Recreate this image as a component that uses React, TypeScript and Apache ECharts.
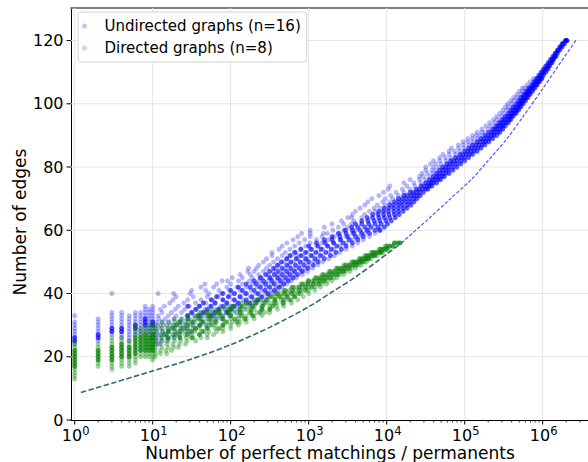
import React, { useEffect, useRef } from 'react';
import * as echarts from 'echarts';

const FONT = 'DejaVu Sans';
const UNDIRECTED = 'Undirected graphs (n=16)';
const DIRECTED = 'Directed graphs (n=8)';

// x values are log10(number of perfect matchings / permanent)
const X_MIN = -0.047;
const X_MAX = 6.581;
const Y_MAX = 130.3;
const xTickExponents = [0, 1, 2, 3, 4, 5, 6];
const xTickLabels = ['10', '10', '10', '10', '10', '10', '10'];
const minorMultipliers = [2, 3, 4, 5, 6, 7, 8, 9];
const yTickValues = [0, 20, 40, 60, 80, 100, 120];

// low-count columns: [log10 x, edge counts]
const undirectedColumns: [number, number[]][] = [
  [0, [24, 25, 26, 27, 28, 29, 30, 31, 33]],
  [0.301, [25, 26, 27, 28, 29, 30, 31, 32]],
  [0.477, [27, 28, 29, 30, 31, 32, 33, 34, 40]],
  [0.602, [26, 27, 28, 29, 30, 31, 32, 33, 34]],
  [0.699, [25, 26, 27, 28, 29, 30, 31, 32, 33]],
  [0.778, [27, 28, 29, 30, 31, 32, 33, 34]],
  [0.845, [27, 28, 29, 30, 31, 32, 33, 34]],
  [0.903, [28, 29, 30, 31, 32, 33, 34, 35, 36]],
  [0.954, [27, 28, 29, 30, 31, 32, 33, 34, 35]],
  [1.0, [26, 27, 28, 29, 30, 31, 32, 33, 34, 35, 36]],
];
const undirectedColumnsDense: [number, number[]][] = [
  [0, [25, 26]],
  [0.301, [26, 27]],
  [0.477, [28, 29]],
  [0.602, [28, 29]],
  [0.778, [29, 30]],
  [0.903, [30, 31, 32]],
  [1.0, [30, 31]],
];

// rows: [edges, log10 x values]
const undirectedRows: [number, number[]][] = [
  [24, [1.04, 1.08]],
  [25, [1.04, 1.11, 1.18]],
  [26, [1.05, 1.12, 1.2, 1.28]],
  [27, [1.04, 1.1, 1.17, 1.26, 1.35]],
  [28, [1.05, 1.13, 1.2, 1.3, 1.42, 1.48]],
  [29, [1.04, 1.1, 1.19, 1.27, 1.36, 1.45, 1.55]],
  [30, [1.06, 1.14, 1.23, 1.31, 1.4, 1.5, 1.6, 1.68]],
  [31, [1.05, 1.12, 1.21, 1.33, 1.42, 1.52, 1.63, 1.75]],
  [32, [1.08, 1.16, 1.27, 1.38, 1.47, 1.58, 1.7, 1.82, 1.88]],
  [33, [1.07, 1.2, 1.3, 1.44, 1.55, 1.66, 1.78, 1.9, 1.98]],
  [34, [1.12, 1.24, 1.37, 1.5, 1.62, 1.74, 1.86, 1.97, 2.08]],
  [35, [1.1, 1.29, 1.41, 1.56, 1.67, 1.8, 1.93, 2.04, 2.17]],
  [36, [1.15, 1.33, 1.47, 1.6, 1.73, 1.87, 2.0, 2.12, 2.26]],
  [37, [1.22, 1.4, 1.55, 1.68, 1.8, 1.95, 2.08, 2.2, 2.34]],
  [38, [1.26, 1.45, 1.62, 1.77, 1.9, 2.03, 2.16, 2.3, 2.42]],
  [39, [1.3, 1.52, 1.7, 1.84, 1.98, 2.12, 2.25, 2.38, 2.48]],
  [40, [1.07, 1.27, 1.48, 1.72, 1.88, 2.02, 2.18, 2.32, 2.45, 2.54]],
  [41, [1.5, 1.68, 1.85, 1.98, 2.12, 2.26, 2.4, 2.52, 2.6]],
  [42, [1.62, 1.78, 1.95, 2.08, 2.2, 2.34, 2.46, 2.58, 2.65]],
  [43, [1.67, 1.82, 2.0, 2.15, 2.28, 2.4, 2.52, 2.64, 2.72]],
  [44, [1.89, 1.96, 2.1, 2.24, 2.36, 2.48, 2.6, 2.7, 2.78]],
  [45, [2.02, 2.15, 2.28, 2.4, 2.52, 2.64, 2.75, 2.84]],
  [46, [2.12, 2.25, 2.36, 2.48, 2.6, 2.72, 2.82, 2.92]],
  [47, [2.22, 2.3, 2.42, 2.55, 2.67, 2.78, 2.9, 2.98]],
  [48, [2.23, 2.33, 2.46, 2.58, 2.7, 2.83, 2.95, 3.05]],
  [49, [2.36, 2.5, 2.62, 2.75, 2.88, 3.0, 3.12]],
  [50, [2.42, 2.55, 2.68, 2.8, 2.93, 3.06, 3.18]],
  [51, [2.46, 2.6, 2.72, 2.86, 2.98, 3.12, 3.26]],
  [52, [2.53, 2.66, 2.78, 2.85, 2.92, 3.05, 3.18, 3.33]],
  [53, [2.53, 2.7, 2.84, 2.98, 3.12, 3.26, 3.4]],
  [54, [2.62, 2.76, 2.9, 3.04, 3.18, 3.32, 3.48]],
  [55, [2.66, 2.82, 2.96, 3.1, 3.25, 3.4, 3.56]],
  [56, [2.72, 2.88, 3.02, 3.17, 3.32, 3.48, 3.63]],
  [57, [2.8, 2.95, 3.1, 3.25, 3.4, 3.56, 3.7]],
  [58, [2.86, 3.02, 3.17, 3.33, 3.48, 3.64, 3.78]],
  [59, [2.91, 3.02, 3.19, 3.24, 3.4, 3.56, 3.72, 3.85]],
  [60, [3.02, 3.31, 3.45, 3.6, 3.76, 3.92]],
  [61, [3.2, 3.38, 3.5]],
  [62, [3.3, 3.45, 3.55]],
  [63, [3.42, 3.58]],
  [64, [3.5, 3.55, 3.68]],
  [65, [3.56, 3.72]],
  [66, [3.6, 3.78, 3.85]],
  [67, [3.66, 3.84, 3.92]],
  [68, [3.72, 3.88, 3.98]],
  [69, [3.76, 3.95, 4.04]],
  [70, [3.81, 3.98, 4.08]],
  [71, [3.9, 4.05, 4.15]],
  [72, [3.96, 4.12, 4.22]],
  [73, [4.02, 4.2, 4.3]],
  [74, [4.04, 4.26, 4.36]],
  [75, [4.22, 4.35, 4.44]],
  [76, [4.3, 4.42, 4.5]],
  [77, [4.42, 4.47, 4.55]],
  [78, [4.45, 4.52, 4.59]],
  [79, [4.5, 4.58, 4.63]],
  [80, [4.5, 4.6, 4.67]],
  [81, [4.56, 4.63, 4.7]],
  [82, [4.6, 4.68, 4.76]],
  [83, [4.68, 4.75, 4.82]],
  [84, [4.72, 4.8, 4.88]],
  [85, [4.8, 4.87, 4.94]],
  [86, [4.83, 4.92, 4.99]],
  [87, [4.92, 4.98, 5.05]],
  [88, [4.98, 5.04, 5.1]],
  [89, [5.04, 5.1, 5.16]],
  [90, [5.1, 5.15, 5.2]],
  [91, [5.16, 5.22, 5.26]],
  [92, [5.22, 5.3]],
  [93, [5.27, 5.33]],
  [94, [5.32, 5.38]],
  [95, [5.37, 5.42]],
  [96, [5.41, 5.47]],
  [97, [5.45, 5.5]],
  [98, [5.49, 5.54]],
  [99, [5.52, 5.56]],
  [100, [5.55, 5.6]],
  [101, [5.59, 5.63]],
  [102, [5.63, 5.67]],
  [103, [5.67, 5.72]],
  [104, [5.7, 5.74]],
  [105, [5.74, 5.77]],
  [106, [5.8]],
  [107, [5.84]],
  [108, [5.88]],
];

const undirectedRowsDense: [number, number[]][] = [
  [33, [1.45, 1.6, 1.75]],
  [34, [1.5, 1.65, 1.8, 1.95]],
  [35, [1.55, 1.7, 1.85, 2.0]],
  [36, [1.45, 1.6, 1.75, 1.9, 2.05]],
  [37, [1.65, 1.8, 1.95, 2.1, 2.25]],
  [38, [1.75, 1.9, 2.05, 2.2, 2.35]],
  [39, [1.82, 1.97, 2.12, 2.27, 2.4]],
  [40, [1.9, 2.05, 2.2, 2.35, 2.48]],
  [41, [2.0, 2.15, 2.3, 2.44, 2.56]],
  [42, [2.1, 2.25, 2.38, 2.5, 2.62]],
  [43, [2.2, 2.33, 2.45, 2.56, 2.68]],
  [44, [2.3, 2.42, 2.53, 2.64, 2.74]],
  [45, [2.38, 2.5, 2.6, 2.7, 2.8]],
  [46, [2.45, 2.56, 2.66, 2.76, 2.86]],
  [47, [2.5, 2.61, 2.72, 2.82, 2.92]],
  [48, [2.55, 2.66, 2.77, 2.88, 2.99]],
  [49, [2.6, 2.72, 2.83, 2.94, 3.06]],
  [50, [2.65, 2.77, 2.89, 3.0, 3.12]],
  [51, [2.72, 2.84, 2.96, 3.08, 3.2]],
  [52, [2.76, 2.9, 3.03, 3.15, 3.28]],
  [53, [2.82, 2.96, 3.09, 3.22, 3.35]],
  [54, [2.9, 3.03, 3.16, 3.29, 3.42]],
  [55, [3.0, 3.12, 3.24, 3.36, 3.48]],
  [56, [3.1, 3.21, 3.32, 3.44, 3.56]],
  [57, [3.2, 3.3, 3.41, 3.52, 3.63]],
  [58, [3.3, 3.4, 3.5, 3.6, 3.7]],
  [59, [3.38, 3.48, 3.58, 3.68, 3.78]],
  [60, [3.47, 3.56, 3.66, 3.75, 3.85, 3.91]],
  [61, [3.55, 3.63, 3.72, 3.8, 3.89, 3.97]],
  [62, [3.6, 3.68, 3.77, 3.85, 3.93, 4.01]],
  [63, [3.68, 3.76, 3.84, 3.91, 3.99, 4.06]],
  [64, [3.75, 3.82, 3.9, 3.97, 4.04, 4.11]],
  [65, [3.82, 3.89, 3.96, 4.03, 4.1, 4.16]],
  [66, [3.9, 3.96, 4.02, 4.09, 4.15, 4.21]],
  [67, [3.97, 4.03, 4.09, 4.15, 4.21, 4.26]],
  [68, [4.04, 4.09, 4.15, 4.2, 4.26, 4.31]],
  [69, [4.1, 4.15, 4.2, 4.25, 4.3, 4.35]],
  [70, [4.15, 4.2, 4.25, 4.3, 4.35, 4.39]],
  [71, [4.22, 4.26, 4.31, 4.35, 4.39, 4.43]],
  [72, [4.3, 4.34, 4.38, 4.42, 4.47]],
  [73, [4.38, 4.42, 4.46, 4.5, 4.53]],
  [74, [4.44, 4.48, 4.52, 4.55, 4.58]],
  [75, [4.5, 4.54, 4.57, 4.6, 4.64]],
  [76, [4.55, 4.59, 4.62, 4.66, 4.69]],
  [77, [4.6, 4.64, 4.67, 4.71, 4.74]],
  [78, [4.64, 4.68, 4.72, 4.76, 4.8]],
  [79, [4.68, 4.72, 4.76, 4.8, 4.85]],
  [80, [4.72, 4.76, 4.8, 4.85, 4.9]],
  [81, [4.77, 4.81, 4.85, 4.9, 4.95]],
  [82, [4.82, 4.86, 4.9, 4.95, 5.0]],
  [83, [4.88, 4.92, 4.96, 5.0, 5.05]],
  [84, [4.94, 4.98, 5.02, 5.06, 5.1]],
  [85, [5.0, 5.04, 5.08, 5.12, 5.16]],
  [86, [5.05, 5.09, 5.13, 5.17, 5.21]],
  [87, [5.1, 5.14, 5.18, 5.22, 5.26]],
  [88, [5.16, 5.2, 5.24, 5.27, 5.31]],
  [89, [5.21, 5.25, 5.29, 5.32, 5.36]],
  [90, [5.26, 5.3, 5.34, 5.37, 5.41]],
  [91, [5.31, 5.35, 5.38, 5.42, 5.45]],
  [92, [5.36, 5.39, 5.42, 5.46, 5.49]],
  [93, [5.4, 5.43, 5.46, 5.49, 5.52]],
  [94, [5.44, 5.47, 5.5, 5.53, 5.56]],
  [95, [5.48, 5.51, 5.54, 5.57, 5.59]],
  [96, [5.52, 5.55, 5.58, 5.6, 5.62]],
  [97, [5.56, 5.59, 5.62, 5.64, 5.66]],
  [98, [5.59, 5.62, 5.65, 5.67, 5.69]],
  [99, [5.62, 5.65, 5.68, 5.7, 5.72]],
  [100, [5.66, 5.69, 5.71, 5.73, 5.75]],
  [101, [5.69, 5.72, 5.74, 5.76, 5.78]],
  [102, [5.72, 5.75, 5.77, 5.79, 5.81]],
  [103, [5.76, 5.78, 5.8, 5.82, 5.84]],
  [104, [5.79, 5.81, 5.83, 5.85, 5.87]],
  [105, [5.82, 5.84, 5.86, 5.88, 5.9]],
  [106, [5.86, 5.88, 5.9, 5.92, 5.93]],
  [107, [5.89, 5.91, 5.93, 5.95, 5.96]],
  [108, [5.92, 5.94, 5.96, 5.98, 5.99]],
  [109, [5.95, 5.97, 5.99, 6.01]],
  [110, [5.98, 6.0, 6.02, 6.04]],
  [111, [6.01, 6.03, 6.05, 6.07]],
  [112, [6.04, 6.06, 6.08, 6.09]],
  [113, [6.07, 6.09, 6.11, 6.12]],
  [114, [6.1, 6.12, 6.13, 6.14]],
  [115, [6.13, 6.15, 6.16, 6.17]],
  [116, [6.16, 6.17, 6.19]],
  [117, [6.19, 6.2, 6.22]],
  [118, [6.22, 6.23, 6.25]],
  [119, [6.25, 6.26, 6.28]],
  [120, [6.29, 6.3, 6.31, 6.31]],
];

const directedColumns: [number, number[]][] = [
  [0, [13, 14, 15, 16, 17, 18, 19, 20, 21, 22, 23, 24, 25]],
  [0.301, [17, 18, 19, 20, 21, 22, 23, 24]],
  [0.477, [16, 17, 18, 19, 20, 21, 22, 23, 24, 25, 26]],
  [0.602, [17, 18, 19, 20, 21, 22, 23, 24, 25, 26]],
  [0.699, [17, 18, 19, 20, 21, 22, 23, 24, 25]],
  [0.778, [18, 19, 20, 21, 22, 23, 24, 25, 26, 27, 28, 29, 30]],
  [0.845, [20, 21, 22, 23, 24, 25, 26, 27, 28, 29]],
  [0.903, [20, 21, 22, 23, 24, 25, 26, 27, 28, 29]],
  [0.954, [20, 21, 22, 23, 24, 25, 26, 27, 28, 29, 30]],
  [1.0, [19, 20, 21, 22, 23, 24, 25, 26, 27, 28, 29, 30]],
];
const directedColumnsDense: [number, number[]][] = [
  [0, [17, 18, 19, 20, 21, 22]],
  [0.301, [19, 20, 21, 22]],
  [0.477, [19, 20, 21, 22, 23]],
  [0.602, [20, 21, 22, 23, 24]],
  [0.699, [20, 21, 22, 23]],
  [0.778, [21, 22, 23, 24, 25, 26]],
  [0.845, [22, 23, 24, 25, 26]],
  [0.903, [22, 23, 24, 25, 26, 27]],
  [0.954, [22, 23, 24, 25, 26]],
  [1.0, [22, 23, 24, 25, 26, 27]],
];

const directedRows: [number, number[]][] = [
  [20, [1.03]],
  [21, [1.04, 1.1, 1.18]],
  [22, [1.03, 1.1, 1.17, 1.24]],
  [23, [1.04, 1.12, 1.2, 1.27, 1.33]],
  [24, [1.03, 1.1, 1.18, 1.26, 1.34, 1.42]],
  [25, [1.05, 1.12, 1.2, 1.28, 1.36, 1.44, 1.55]],
  [26, [1.04, 1.11, 1.19, 1.27, 1.35, 1.43, 1.52, 1.62, 1.7]],
  [27, [1.03, 1.1, 1.18, 1.26, 1.34, 1.42, 1.5, 1.6, 1.7, 1.78]],
  [28, [1.05, 1.13, 1.21, 1.29, 1.37, 1.45, 1.54, 1.63, 1.72, 1.82, 1.9]],
  [29, [1.04, 1.12, 1.2, 1.28, 1.36, 1.44, 1.52, 1.6, 1.7, 1.8, 1.9, 2.0]],
  [30, [1.03, 1.1, 1.18, 1.27, 1.35, 1.43, 1.52, 1.61, 1.7, 1.8, 1.9, 2.0, 2.1]],
  [31, [1.12, 1.2, 1.28, 1.36, 1.45, 1.54, 1.63, 1.72, 1.82, 1.92, 2.02, 2.12, 2.2]],
  [32, [1.28, 1.36, 1.45, 1.54, 1.63, 1.72, 1.81, 1.9, 2.0, 2.1, 2.2, 2.3]],
  [33, [1.45, 1.53, 1.62, 1.71, 1.8, 1.9, 2.0, 2.1, 2.2, 2.3, 2.4]],
  [34, [1.6, 1.68, 1.77, 1.86, 1.95, 2.04, 2.14, 2.24, 2.34, 2.44, 2.5]],
  [35, [1.75, 1.83, 1.92, 2.01, 2.1, 2.2, 2.3, 2.4, 2.5, 2.6]],
  [36, [1.95, 2.03, 2.12, 2.21, 2.3, 2.4, 2.5, 2.59, 2.68]],
  [37, [2.15, 2.23, 2.32, 2.41, 2.5, 2.59, 2.68, 2.78]],
  [38, [2.3, 2.38, 2.47, 2.56, 2.65, 2.74, 2.86]],
  [39, [2.5, 2.57, 2.65, 2.73, 2.82, 2.93]],
  [40, [2.58, 2.65, 2.73, 2.81, 2.9, 3.0]],
  [41, [2.68, 2.75, 2.83, 2.91, 3.0, 3.08]],
  [42, [2.78, 2.85, 2.92, 3.0, 3.08, 3.15]],
  [43, [2.9, 2.96, 3.03, 3.1, 3.17, 3.23]],
  [44, [2.99, 3.05, 3.12, 3.18, 3.24, 3.3]],
  [45, [3.08, 3.14, 3.2, 3.26, 3.32, 3.36]],
  [46, [3.17, 3.23, 3.29, 3.35, 3.4, 3.45]],
  [47, [3.26, 3.32, 3.38, 3.43, 3.48, 3.53]],
  [48, [3.35, 3.4, 3.45, 3.5, 3.55, 3.6]],
  [49, [3.45, 3.5, 3.55, 3.6, 3.64, 3.67]],
  [50, [3.55, 3.59, 3.63, 3.67, 3.71, 3.74]],
  [51, [3.65, 3.69, 3.72, 3.76, 3.8]],
  [52, [3.72, 3.76, 3.8, 3.84, 3.88]],
  [53, [3.8, 3.84, 3.88, 3.92, 3.95]],
  [54, [3.9, 3.94, 3.98, 4.02]],
  [55, [3.98, 4.03, 4.08]],
  [56, [4.1, 4.17]],
];
const directedRowsDense: [number, number[]][] = [
  [26, [1.2, 1.35, 1.5]],
  [27, [1.15, 1.3, 1.45, 1.6]],
  [28, [1.2, 1.35, 1.5, 1.65]],
  [29, [1.25, 1.4, 1.55, 1.7, 1.85]],
  [30, [1.3, 1.45, 1.6, 1.75, 1.9]],
  [31, [1.35, 1.5, 1.65, 1.8, 1.95, 2.08]],
  [32, [1.45, 1.6, 1.75, 1.9, 2.05, 2.18]],
  [33, [1.58, 1.72, 1.86, 2.0, 2.14, 2.28]],
  [34, [1.7, 1.84, 1.98, 2.12, 2.26, 2.38]],
  [35, [1.85, 1.98, 2.12, 2.26, 2.4, 2.5]],
  [36, [2.02, 2.15, 2.28, 2.41, 2.54]],
  [37, [2.2, 2.32, 2.44, 2.56, 2.67]],
  [38, [2.35, 2.46, 2.57, 2.68, 2.77]],
  [39, [2.52, 2.62, 2.72, 2.82]],
  [40, [2.6, 2.69, 2.78, 2.87]],
  [41, [2.7, 2.79, 2.88, 2.96]],
  [42, [2.8, 2.88, 2.96, 3.04]],
  [43, [2.92, 2.99, 3.06, 3.13]],
  [44, [3.0, 3.07, 3.14, 3.2]],
  [45, [3.1, 3.16, 3.22, 3.28]],
  [46, [3.19, 3.25, 3.31, 3.37]],
  [47, [3.28, 3.34, 3.4, 3.45]],
  [48, [3.37, 3.42, 3.47, 3.52]],
  [49, [3.47, 3.52, 3.57, 3.61]],
  [50, [3.57, 3.61, 3.65, 3.69]],
  [51, [3.66, 3.7, 3.74, 3.77]],
  [52, [3.74, 3.78, 3.82, 3.85]],
  [53, [3.82, 3.86, 3.9, 3.93]],
  [54, [3.92, 3.96, 4.0]],
  [55, [4.0, 4.04, 4.08]],
  [56, [4.1, 4.14, 4.17]],
];

// lower-bound curves: [log10 x, edges]
const boundDirected: [number, number][] = [
  [0.08, 8.7], [0.5, 11.8], [1.0, 15.5], [1.5, 19.3], [2.0, 23.8], [2.5, 29.3],
  [3.0, 35.8], [3.3, 40.5], [3.6, 45.2], [3.9, 50.6], [4.19, 56.0],
];
const boundUndirected: [number, number][] = [
  [4.19, 56.0], [4.53, 63.5], [4.81, 69.8], [5.09, 76.2], [5.3, 82.0], [5.54, 88.9],
  [5.75, 96.0], [5.97, 103.7], [6.2, 112.0], [6.44, 120.6],
];

const fromColumns = (cols: [number, number[]][]) => cols.flatMap(([l, es]) => es.map((e) => [l, e]));
const fromRows = (rows: [number, number[]][]) => rows.flatMap(([e, ls]) => ls.map((l) => [l, e]));

export default function App() {
  const ref = useRef<HTMLDivElement>(null);
  useEffect(() => {
    if (!ref.current) return;
    const chart = echarts.init(ref.current, undefined, { renderer: 'svg' });
    const minorTicks: number[][] = [];
    xTickExponents.forEach((n) => {
      minorMultipliers.forEach((m) => {
        const v = n + Math.log10(m);
        if (v < X_MAX) minorTicks.push([v, 0]);
      });
    });
    const scatterBase = { type: 'scatter', symbol: 'circle', symbolSize: 5, silent: true, z: 3 };
    chart.setOption({
      animation: false,
      textStyle: { fontFamily: FONT },
      grid: { left: 71, right: 0, top: 8, bottom: 42 },
      legend: {
        left: 78, top: 12, orient: 'vertical', icon: 'circle', itemWidth: 30, itemHeight: 5, itemGap: 4,
        padding: [5, 6, 5, 4], backgroundColor: '#fff', borderColor: '#d3d3d3', borderWidth: 1, borderRadius: 3,
        textStyle: { fontFamily: FONT, fontSize: 15, color: '#000', lineHeight: 18 },
        selectedMode: false,
        data: [
          { name: UNDIRECTED, itemStyle: { color: 'rgba(0,0,255,0.3)' } },
          { name: DIRECTED, itemStyle: { color: 'rgba(0,128,0,0.3)' } },
        ],
        z: 10,
      },
      xAxis: [
        {
          type: 'value', min: X_MIN, max: X_MAX, position: 'bottom',
          axisLine: { show: true, onZero: false, lineStyle: { color: '#000', width: 1 } },
          axisTick: { show: false }, axisLabel: { show: false }, splitLine: { show: false },
        },
        {
          type: 'value', min: X_MIN, max: X_MAX, position: 'top',
          axisLine: { show: true, onZero: false, lineStyle: { color: '#808080', width: 2 } },
          axisTick: { show: false }, axisLabel: { show: false }, splitLine: { show: false },
        },
      ],
      yAxis: {
        type: 'value', min: 0, max: Y_MAX,
        axisLine: { show: true, onZero: false, lineStyle: { color: '#000', width: 1 } },
        axisTick: { show: false }, axisLabel: { show: false }, splitLine: { show: false },
      },
      graphic: [
        {
          type: 'text', x: 330, y: 453,
          style: { text: 'Number of perfect matchings / permanents', font: `17px "${FONT}"`, fill: '#000', align: 'center', verticalAlign: 'middle' },
        },
        {
          type: 'text', x: 20, y: 222, rotation: Math.PI / 2,
          style: { text: 'Number of edges', font: `17px "${FONT}"`, fill: '#000', align: 'center', verticalAlign: 'middle' },
        },
      ],
      series: [
        {
          type: 'custom', silent: true, z: 1, clip: false,
          data: xTickExponents.map((v, i) => [v, 0, i]),
          renderItem: (params: any, api: any) => {
            const v = api.value(0);
            const i = api.value(2);
            const p0 = api.coord([v, 0]);
            const p1 = api.coord([v, Y_MAX]);
            return {
              type: 'group',
              children: [
                { type: 'line', shape: { x1: p0[0], y1: p1[1], x2: p0[0], y2: p0[1] }, style: { stroke: '#e4e4e4', lineWidth: 1 } },
                { type: 'line', shape: { x1: p0[0], y1: p0[1], x2: p0[0], y2: p0[1] + 4.5 }, style: { stroke: '#000', lineWidth: 1 } },
                {
                  type: 'text', x: p0[0] + 1, y: p0[1] + 15,
                  style: {
                    text: `{b|${xTickLabels[i]}}{s|${xTickExponents[i]}}`,
                    fill: '#000', align: 'center', verticalAlign: 'middle',
                    rich: {
                      b: { fontFamily: FONT, fontSize: 16, fill: '#000' },
                      s: { fontFamily: FONT, fontSize: 11.5, fill: '#000', padding: [0, 0, 9, 0] },
                    },
                  },
                },
              ],
            };
          },
        },
        {
          type: 'custom', silent: true, z: 1, clip: false,
          data: minorTicks,
          renderItem: (params: any, api: any) => {
            const p0 = api.coord([api.value(0), 0]);
            return { type: 'line', shape: { x1: p0[0], y1: p0[1], x2: p0[0], y2: p0[1] + 2.5 }, style: { stroke: '#000', lineWidth: 0.8 } };
          },
        },
        {
          type: 'custom', silent: true, z: 1, clip: false,
          data: yTickValues.map((v) => [X_MIN, v]),
          renderItem: (params: any, api: any) => {
            const v = api.value(1);
            const p0 = api.coord([X_MIN, v]);
            const p1 = api.coord([X_MAX, v]);
            const children: any[] = [];
            if (v !== 0) children.push({ type: 'line', shape: { x1: p0[0], y1: p0[1], x2: p1[0], y2: p0[1] }, style: { stroke: '#e4e4e4', lineWidth: 1 } });
            children.push({ type: 'line', shape: { x1: p0[0] - 4.5, y1: p0[1], x2: p0[0], y2: p0[1] }, style: { stroke: '#000', lineWidth: 1 } });
            children.push({ type: 'text', x: p0[0] - 7.5, y: p0[1], style: { text: String(v), fill: '#000', font: `16px "${FONT}"`, align: 'right', verticalAlign: 'middle' } });
            return { type: 'group', children };
          },
        },
        {
          ...scatterBase, name: UNDIRECTED,
          data: [...fromColumns(undirectedColumns), ...fromRows(undirectedRows)],
          itemStyle: { color: 'rgba(0,0,255,0.36)' },
        },
        {
          ...scatterBase, name: UNDIRECTED,
          data: [...fromColumns(undirectedColumnsDense), ...fromRows(undirectedRowsDense)],
          itemStyle: { color: 'rgba(0,0,255,0.8)' },
        },
        {
          ...scatterBase, name: DIRECTED,
          data: [...fromColumns(directedColumns), ...fromRows(directedRows)],
          itemStyle: { color: 'rgba(0,128,0,0.45)' },
        },
        {
          ...scatterBase, name: DIRECTED,
          data: [...fromColumns(directedColumnsDense), ...fromRows(directedRowsDense)],
          itemStyle: { color: 'rgba(0,128,0,0.75)' },
        },
        {
          type: 'line', data: boundUndirected, smooth: 0.3, symbol: 'none', silent: true, z: 4,
          lineStyle: { color: 'rgba(40,40,255,0.8)', width: 1.2, type: [3.5, 1.8] },
        },
        {
          type: 'line', data: boundDirected, smooth: 0.3, symbol: 'none', silent: true, z: 4,
          lineStyle: { color: '#2b6f6f', width: 1.6, type: [5.5, 2.4] },
        },
      ],
    });
    return () => chart.dispose();
  }, []);
  return <div ref={ref} style={{ width: 588, height: 462, position: 'absolute', left: 0, top: 0 }} />;
}
